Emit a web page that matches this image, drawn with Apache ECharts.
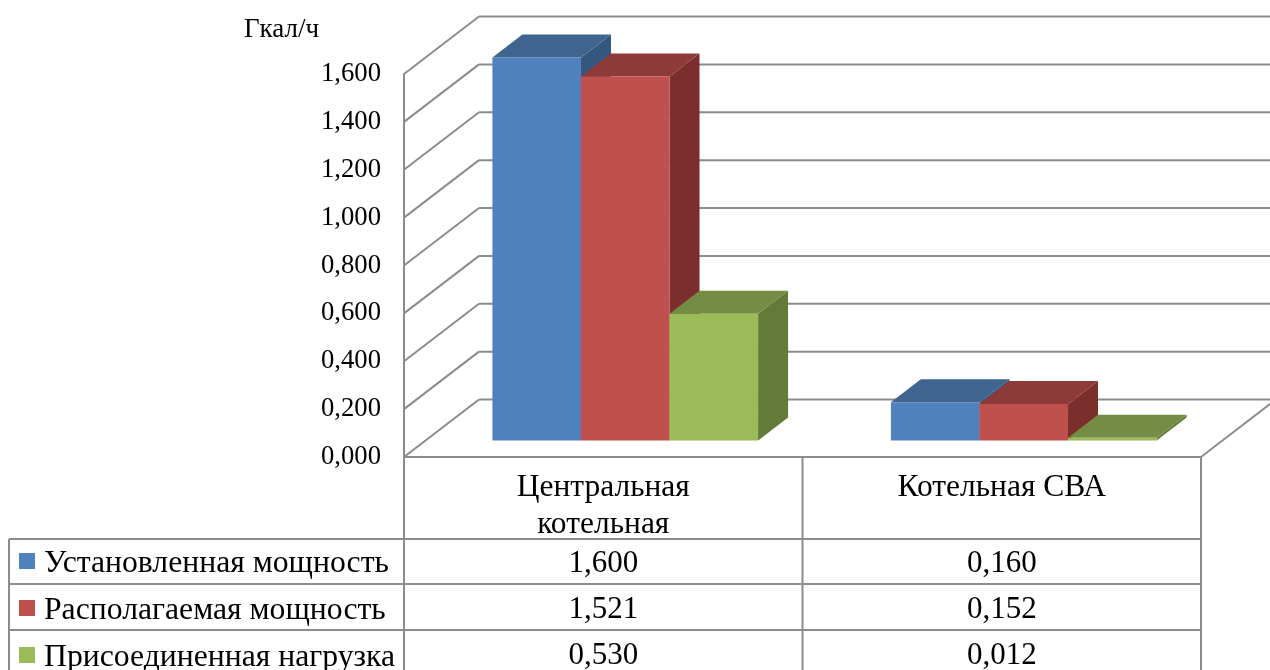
<!DOCTYPE html>
<html><head><meta charset="utf-8">
<style>html,body{margin:0;padding:0;background:#fff}#c{width:1270px;height:670px}</style>
<script src="https://cdn.jsdelivr.net/npm/echarts@6/dist/echarts.min.js"></script>
</head><body><div id="c"></div>
<script>
const categories = ['Центральная\nкотельная', 'Котельная СВА'];
const installed = [1.6, 0.16];
const available = [1.521, 0.152];
const connected = [0.53, 0.012];
const seriesNames = ['Установленная мощность', 'Располагаемая мощность', 'Присоединенная нагрузка'];
const yTicks = [0, 0.2, 0.4, 0.6, 0.8, 1.0, 1.2, 1.4, 1.6];
const unit = 'Гкал/ч';

const FONT = '"Liberation Serif","Times New Roman",serif';
const FS_AXIS = 26.67, FS_TABLE = 31, FS_CAT = 31.5, FS_LEGEND = 31.7, FS_UNIT = 27;
const GRAY = '#8c8c8c';
const WALL = [75, -57.5], BAR_OFF = [22, -16.5], BAR_DEPTH = [30, -23];
const TABLE_LEFT = 9, ROW_Y = [539, 584, 630], ROW_TEXT_Y = [564, 610, 656], BOTTOM = 672;
const fmt = v => v.toFixed(3).replace('.', ',');

const line = (x1, y1, x2, y2) => ({ type: 'line', shape: { x1, y1, x2, y2 }, style: { stroke: GRAY, lineWidth: 2, fill: null } });
const poly = (points, fill) => ({ type: 'polygon', shape: { points }, style: { fill } });

function frameItem(params, api) {
  const v = api.value(1);
  const band = api.size([1, 0])[0];
  const p = api.coord([0, v]);
  const left = p[0] - band / 2;
  const right = left + band * categories.length;
  const children = [
    line(left, p[1], left + WALL[0], p[1] + WALL[1]),
    line(left + WALL[0], p[1] + WALL[1], right + WALL[0], p[1] + WALL[1])
  ];
  if (v === 0) children.push(line(right, p[1], right + WALL[0], p[1] + WALL[1]));
  return { type: 'group', children };
}

function barItem(idx, cols) {
  return function (params, api) {
    const c = api.value(0);
    const base = api.coord([c, 0]);
    const top = api.coord([c, api.value(1)]);
    const w = api.size([1, 0])[0] / 4.5;
    const x0 = base[0] - 1.5 * w + idx * w + BAR_OFF[0];
    const x1 = x0 + w;
    const yb = base[1] + BAR_OFF[1];
    const yt = top[1] + BAR_OFF[1];
    const dx = BAR_DEPTH[0], dy = BAR_DEPTH[1];
    return { type: 'group', children: [
      poly([[x1, yt], [x1 + dx, yt + dy], [x1 + dx, yb + dy], [x1, yb]], cols[2]),
      poly([[x0, yt], [x0 + dx, yt + dy], [x1 + dx, yt + dy], [x1, yt]], cols[1]),
      poly([[x0, yt], [x1, yt], [x1, yb], [x0, yb]], cols[0])
    ] };
  };
}

function tableItem(params, api) {
  const c = api.value(0);
  const p = api.coord([c, 0]);
  const band = api.size([1, 0])[0];
  const left = p[0] - band / 2, right = p[0] + band / 2;
  const children = [line(right, p[1], right, BOTTOM)];
  if (c === 0) {
    children.push(line(left, p[1], left, BOTTOM));
    children.push(line(TABLE_LEFT, ROW_Y[0], TABLE_LEFT, BOTTOM));
    ROW_Y.forEach(y => children.push(line(TABLE_LEFT, y, left, y)));
  }
  ROW_Y.forEach((y, i) => {
    children.push(line(left, y, right, y));
    children.push({ type: 'text', style: { text: fmt(api.value(i + 1)), x: p[0], y: ROW_TEXT_Y[i],
      align: 'center', verticalAlign: 'middle', font: FS_TABLE + 'px ' + FONT, fill: '#000' } });
  });
  return { type: 'group', children };
}

const palette = [
  ['#4f81bd', '#3e648f', '#35577f'],
  ['#c0504d', '#8e3a38', '#7a2f2d'],
  ['#9bbb59', '#748c43', '#647a38']
];
const seriesValues = [installed, available, connected];

const chart = echarts.init(document.getElementById('c'));
chart.setOption({
  animation: false,
  backgroundColor: '#fff',
  grid: { left: 404, top: 74, width: 797, height: 383, containLabel: false },
  legend: {
    data: seriesNames, orient: 'vertical', left: 19, top: 541, height: 200, padding: 0, itemGap: 8,
    itemWidth: 16, itemHeight: 16, icon: 'rect', selectedMode: false,
    formatter: n => '{a|' + n + '}',
    textStyle: { fontFamily: FONT, fontSize: FS_LEGEND, color: '#000',
      rich: { a: { fontFamily: FONT, fontSize: FS_LEGEND, color: '#000', lineHeight: 40, verticalAlign: 'top', padding: [7, 0, 0, 4] } } }
  },
  xAxis: {
    type: 'category', data: categories,
    axisLine: { show: true, lineStyle: { color: GRAY, width: 2 } }, axisTick: { show: false },
    axisLabel: { interval: 0, fontFamily: FONT, fontSize: FS_CAT, color: '#000', lineHeight: 37, margin: 12, align: 'center', verticalAlign: 'top' }
  },
  yAxis: {
    type: 'value', min: 0, max: 1.6, interval: 0.2,
    name: unit, nameLocation: 'end', nameGap: 31,
    nameTextStyle: { fontFamily: FONT, fontSize: FS_UNIT, color: '#000', align: 'right', padding: [0, 85, 0, 0] },
    axisLine: { show: true, lineStyle: { color: GRAY, width: 2 } }, axisTick: { show: false },
    splitLine: { show: false },
    axisLabel: { fontFamily: FONT, fontSize: FS_AXIS, color: '#000', margin: 23, padding: [2, 0, 0, 0], formatter: fmt }
  },
  series: [
    { type: 'custom', name: 'frame', silent: true, clip: false, z: 1, renderItem: frameItem,
      encode: { x: 0, y: 1 }, data: yTicks.map(v => [0, v]) },
    ...seriesNames.map((name, i) => ({
      type: 'custom', name, clip: false, z: 2, silent: true, renderItem: barItem(i, palette[i]),
      itemStyle: { color: palette[i][0] }, encode: { x: 0, y: 1 },
      data: categories.map((c, k) => [k, seriesValues[i][k]])
    })),
    { type: 'custom', name: 'table', silent: true, clip: false, z: 3, renderItem: tableItem,
      encode: { x: 0 }, data: categories.map((c, k) => [k, installed[k], available[k], connected[k]]) }
  ]
});
</script></body></html>
